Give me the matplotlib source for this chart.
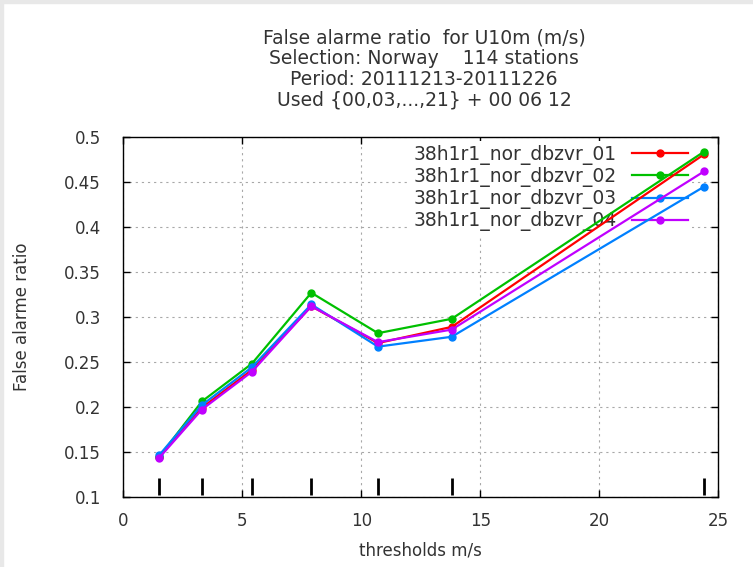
import matplotlib
matplotlib.use("Agg")
import matplotlib.pyplot as plt
from matplotlib.patches import Rectangle

# Wind speed thresholds (m/s) and false alarm ratio for each experiment
thresholds = [1.5, 3.3, 5.4, 7.9, 10.7, 13.8, 24.4]
far_01 = [0.144, 0.199, 0.241, 0.312, 0.271, 0.289, 0.481]
far_02 = [0.144, 0.206, 0.248, 0.327, 0.282, 0.298, 0.484]
far_03 = [0.146, 0.202, 0.244, 0.314, 0.267, 0.278, 0.445]
far_04 = [0.143, 0.197, 0.239, 0.312, 0.272, 0.286, 0.462]

series_names = ["38h1r1_nor_dbzvr_01", "38h1r1_nor_dbzvr_02",
                "38h1r1_nor_dbzvr_03", "38h1r1_nor_dbzvr_04"]
series_colors = ["#ff0000", "#00c000", "#0080ff", "#c000ff"]

title_lines = ["False alarme ratio  for U10m (m/s)",
               "Selection: Norway    114 stations",
               "Period: 20111213-20111226",
               "Used {00,03,...,21} + 00 06 12"]

xticks = [0, 5, 10, 15, 20, 25]
yticks = [0.1, 0.15, 0.2, 0.25, 0.3, 0.35, 0.4, 0.45, 0.5]

plt.rcParams['font.family'] = ['DejaVu Sans']

fig = plt.figure(figsize=(7.53, 5.67), dpi=100)
# light grey canvas edge (left and top)
fig.patches.append(Rectangle((0, 0), 3 / 753, 1, transform=fig.transFigure,
                             color='#e8e8e8', zorder=0))
fig.patches.append(Rectangle((0, 1 - 3 / 567), 1, 3 / 567, transform=fig.transFigure,
                             color='#e8e8e8', zorder=0))

ax = fig.add_axes([123.3 / 753, 1 - 496.7 / 567, 595 / 753, 359.4 / 567])
ax.set_axisbelow(True)

for vals, name, col in zip([far_01, far_02, far_03, far_04], series_names, series_colors):
    ax.plot(thresholds, vals, color=col, lw=1.6, marker='o', ms=5,
            label=name, zorder=3)

# threshold markers along the bottom
ax.vlines(thresholds, 0.102, 0.121, color='black', lw=2, zorder=3)

ax.set_xlim(0, 25)
ax.set_ylim(0.1, 0.5)
ax.set_xticks(xticks)
ax.set_yticks(yticks)
ax.set_yticklabels([f"{v:g}" for v in yticks])
ax.tick_params(direction='in', length=5, width=1, top=True, right=True,
               labelsize=12, colors='black', labelcolor='#333333')
ax.tick_params(axis='y', pad=16)
ax.tick_params(axis='x', pad=11)
ax.grid(True, color='#a8a8a8', lw=0.8, linestyle=(0, (2, 3.5)))
for sp in ax.spines.values():
    sp.set_linewidth(1)
    sp.set_color('black')

ax.set_xlabel("thresholds m/s", fontsize=12, color='#333333', labelpad=8)
ax.set_ylabel("False alarme ratio", fontsize=12, color='#333333', labelpad=24)

fig.text(424 / 753, 1 - 28 / 567, "\n".join(title_lines), ha='center', va='top',
         fontsize=13.5, color='#333333', linespacing=1.12)

leg = ax.legend(loc='upper right', bbox_to_anchor=(0.9557, 0.99), markerfirst=False,
                frameon=True, fancybox=False, edgecolor='none', facecolor='white',
                framealpha=1, fontsize=13.5, handlelength=3.0, handletextpad=0.8,
                labelspacing=0.12, borderpad=0.2, borderaxespad=0)
leg.set_zorder(2)
for t in leg.get_texts():
    t.set_color('#333333')

fig.savefig("out.png", dpi=100)
